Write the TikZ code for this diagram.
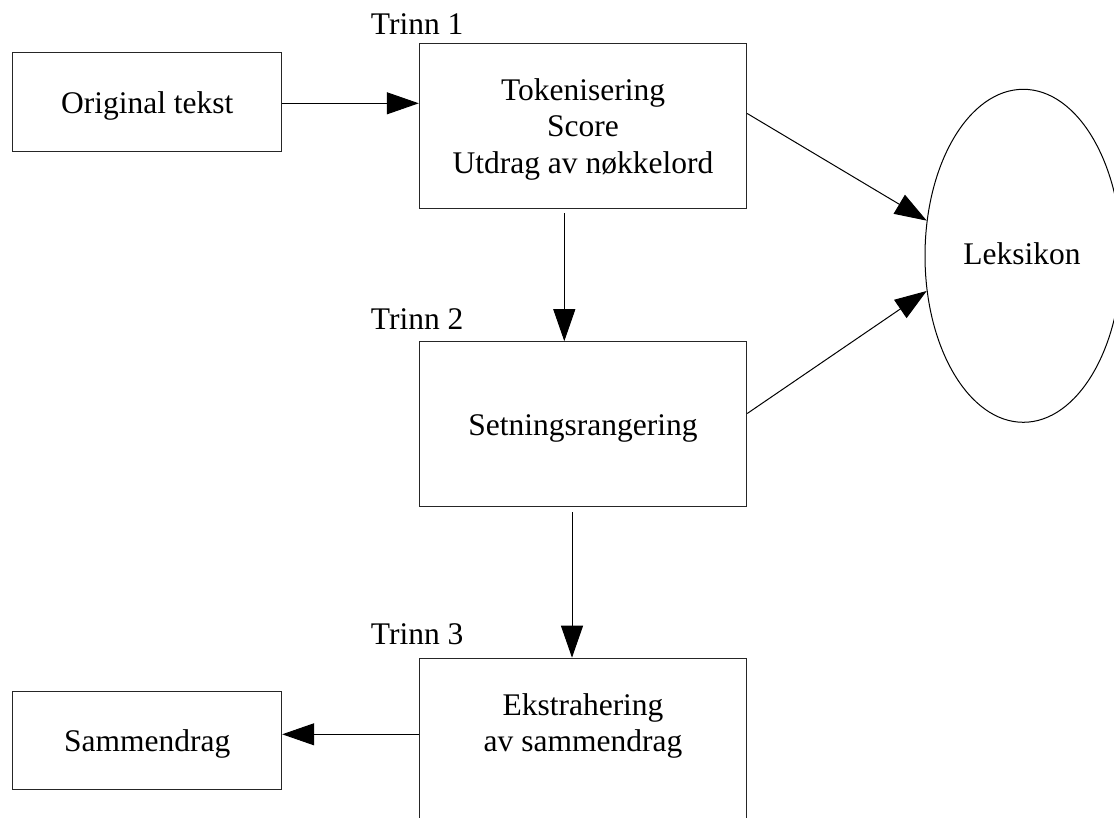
\documentclass[tikz,border=0pt]{standalone}
\usepackage{fontspec}
\setmainfont{Liberation Serif}
\usetikzlibrary{arrows.meta,shapes.geometric,calc}
\begin{document}
\begin{tikzpicture}[x=1pt,y=-1pt,
  every node/.style={font=\fontsize{31.5}{36.6}\selectfont},
  box/.style={draw=black!85, line width=1pt, rectangle, inner sep=0pt},
  txt/.style={inner sep=0pt, align=center},
  arr/.style={draw=black, line width=1pt, -{Triangle[length=32pt,width=22pt]}},
  steplabel/.style={anchor=base west, inner sep=0pt}]
\useasboundingbox (0,0) rectangle (1114,818);
\clip (0,0) rectangle (1114,818);

\node[box, minimum width=269pt, minimum height=99pt] (ot) at (147.2,102.2) {};
\node[txt, anchor=base] (ott) at (147.2,113.3) {Original tekst};
\node[box, minimum width=327.4pt, minimum height=165pt] (t1) at (583,125.8) {};
\node[txt] (t1t) at (583,129.2) {Tokenisering\\Score\\Utdrag av nøkkelord};
\node[box, minimum width=327.4pt, minimum height=165pt] (t2) at (583,424.2) {};
\node[txt, anchor=base] (t2t) at (583,435) {Setningsrangering};
\node[box, minimum width=327.4pt, minimum height=170pt, anchor=north] (t3) at (583,657.7) {};
\node[txt] (t3t) at (583,726) {Ekstrahering\\av sammendrag};
\node[box, minimum width=269pt, minimum height=98pt] (sm) at (147.2,740) {};
\node[txt, anchor=base] (smt) at (147.2,751.7) {Sammendrag};
\node[draw=black, line width=1pt, ellipse, inner sep=0pt, minimum width=196.6pt, minimum height=333pt] (lex) at (1023.3,255.8) {};
\node[txt, anchor=base] (lext) at (1022,265) {Leksikon};

\node[steplabel] (l1) at (370.7,35) {Trinn 1};
\node[steplabel] (l2) at (370.7,330) {Trinn 2};
\node[steplabel] (l3) at (370.7,644) {Trinn 3};

\draw[arr] ($(ot.east)+(0,1.1)$) -- ($(ot.east -| t1.west)+(0,1.1)$);
\draw[arr] ($(t1.north east)+(0,70.7)$) -- (lex.160);
\draw[arr] ($(t2.north east)+(0,72.3)$) -- (lex.200);
\draw[arr] ($(t1.south)+(-18.7,4.4)$) -- ($(t2.north)+(-18.7,0)$);
\draw[arr] ($(t2.south)+(-11,5)$) -- ($(t3.north)+(-11,0)$);
\coordinate (c3) at ($(t3.north west)+(0,76.6)$);
\draw[arr] (c3) -- (c3 -| sm.east);
\end{tikzpicture}
\end{document}
